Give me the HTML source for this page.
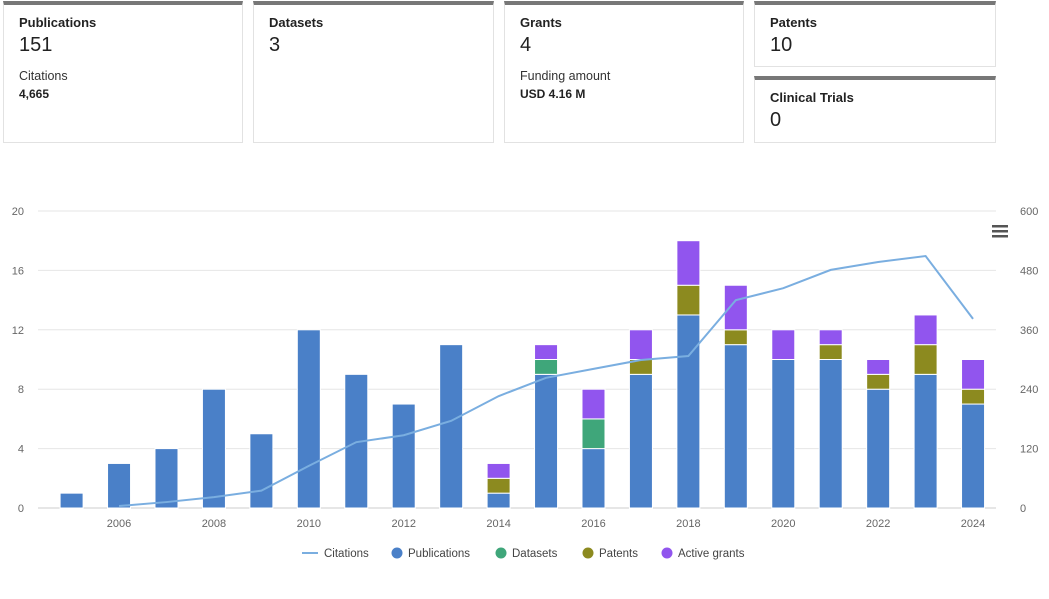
<!DOCTYPE html>
<html><head><meta charset="utf-8"><style>
body{margin:0;width:1049px;height:599px;background:#fff;font-family:"Liberation Sans",sans-serif;color:#222;overflow:hidden;position:relative}
.card{position:absolute;box-sizing:border-box;border:1px solid #e2e2e2;border-top:4px solid #777;background:#fff;padding:10px 0 0 15px}
.lab{font-size:13px;font-weight:bold;color:#222}
.big{font-size:20px;margin-top:4px}
.sub{font-size:12.5px;color:#333;margin-top:12px}
.subv{font-size:12px;font-weight:bold;margin-top:4px}
</style></head><body>
<div class="card" style="left:3px;top:1px;width:240px;height:142px">
<div class="lab">Publications</div><div class="big">151</div><div class="sub">Citations</div><div class="subv">4,665</div></div>
<div class="card" style="left:253px;top:1px;width:241px;height:142px">
<div class="lab">Datasets</div><div class="big">3</div></div>
<div class="card" style="left:504px;top:1px;width:240px;height:142px">
<div class="lab">Grants</div><div class="big">4</div><div class="sub">Funding amount</div><div class="subv">USD 4.16 M</div></div>
<div class="card" style="left:754px;top:1px;width:242px;height:66px">
<div class="lab">Patents</div><div class="big">10</div></div>
<div class="card" style="left:754px;top:76px;width:242px;height:67px">
<div class="lab">Clinical Trials</div><div class="big">0</div></div>
<svg id="chart" width="1049" height="599" style="position:absolute;left:0;top:0" font-family="Liberation Sans, sans-serif"></svg>
<script>
const years=[2005,2006,2007,2008,2009,2010,2011,2012,2013,2014,2015,2016,2017,2018,2019,2020,2021,2022,2023,2024];
const publications=[1,3,4,8,5,12,9,7,11,1,9,4,9,13,11,10,10,8,9,7];
const datasets=[0,0,0,0,0,0,0,0,0,0,1,2,0,0,0,0,0,0,0,0];
const patents=[0,0,0,0,0,0,0,0,0,1,0,0,1,2,1,0,1,1,2,1];
const grants=[0,0,0,0,0,0,0,0,0,1,1,2,2,3,3,2,1,1,2,2];
const citations=[null,4,12,22,35,85,133,147,176,226,263,281,299,307,420,444,481,497,509,382];
const leftTicks=[0,4,8,12,16,20];
const rightTicks=[0,120,240,360,480,600];
const NS="http://www.w3.org/2000/svg";
const svg=document.getElementById('chart');
const x0=38,x1=996,yB=508,yT=211;
const step=(973-119)/18;
const xs=i=>71.6+i*step;
const yL=v=>yB-(v/20)*(yB-yT);
const yR=v=>yB-(v/600)*(yB-yT);
function el(t,a,p){const e=document.createElementNS(NS,t);for(const k in a)e.setAttribute(k,a[k]);(p||svg).appendChild(e);return e;}
leftTicks.forEach((t,i)=>{
 const l=el('line',{x1:x0,x2:x1,y1:yL(t),y2:yL(t),stroke:i==0?'#ccc':'#e6e6e6','stroke-width':1});
 
 
 const tx=el('text',{x:24,y:yL(t)+4,'text-anchor':'end','font-size':11,fill:'#666'});tx.textContent=t;
 
 
});
rightTicks.forEach(t=>{
 const tx=el('text',{x:1020,y:yR(t)+4,'font-size':11,fill:'#666'});tx.textContent=t;
 
 
});
years.forEach((y,i)=>{
 if(y%2==0){const tx=el('text',{x:xs(i),y:527,'text-anchor':'middle','font-size':11,fill:'#666'});tx.textContent=y;
 
 }
 const segs=[[publications[i],'#4a80c8'],[datasets[i],'#3fa67a'],[patents[i],'#8c8a1f'],[grants[i],'#9155ee']];
 let base=0;
 segs.forEach(([v,c])=>{ if(v>0){
  const r=el('rect',{x:xs(i)-11.5,y:yL(base+v),width:23,height:yL(base)-yL(base+v),fill:c,stroke:'#fff','stroke-width':1});
  
  
  base+=v;}});
});
let d='';citations.forEach((c,i)=>{if(c!==null)d+=(d?'L':'M')+xs(i)+','+yR(c);});
const p=el('path',{d:d,fill:'none',stroke:'#7aaee0','stroke-width':2});


const menu=el('g',{});


[226,231,236].forEach(y=>el('rect',{x:992,y:y-1,width:16,height:2.5,fill:'#555'},menu));
const legend=[['Citations','line','#7aaee0',302],['Publications','dot','#4a80c8',397],['Datasets','dot','#3fa67a',501],['Patents','dot','#8c8a1f',588],['Active grants','dot','#9155ee',667]];
legend.forEach(([n,k,c,x])=>{
 const g=el('g',{});
 
 
 let tx;
 if(k=='line'){el('line',{x1:x,x2:x+16,y1:553,y2:553,stroke:c,'stroke-width':2},g);tx=x+22;}
 else{el('circle',{cx:x,cy:553,r:5.5,fill:c},g);tx=x+11;}
 const t=el('text',{x:tx,y:557,'font-size':11.5,fill:'#444'},g);t.textContent=n;
});
</script>
</body></html>
